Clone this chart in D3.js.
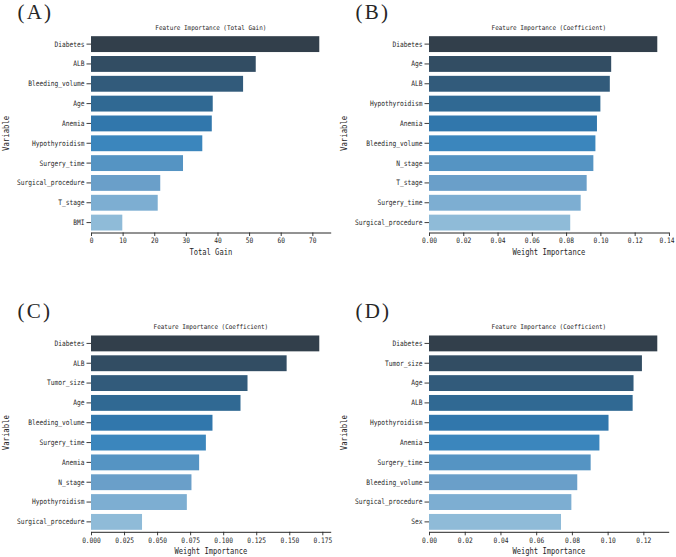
<!DOCTYPE html>
<html>
<head>
<meta charset="utf-8">
<script src="https://cdn.jsdelivr.net/npm/d3@7"></script>
<style>
  body { margin: 0; background: #fff; }
  svg { display: block; }
  text { fill: #262626; }
</style>
</head>
<body>
<svg id="chart" width="676" height="557"></svg>
<script>
"use strict";

// --- data ---

const catsA = ["Diabetes", "ALB", "Bleeding_volume", "Age", "Anemia", "Hypothyroidism",
    "Surgery_time", "Surgical_procedure", "T_stage", "BMI"]
const valsA = [72.2, 52.1, 48.1, 38.5, 38.2, 35.2, 29.1, 21.9, 21.1, 9.9]
const ticksA = [0, 10, 20, 30, 40, 50, 60, 70]

const catsB = ["Diabetes", "Age", "ALB", "Hypothyroidism", "Anemia", "Bleeding_volume",
    "N_stage", "T_stage", "Surgery_time", "Surgical_procedure"]
const valsB = [0.1332, 0.1063, 0.1055, 0.1000, 0.0980, 0.0971, 0.0959, 0.0920, 0.0885, 0.0824]
const ticksB = [0, 0.02, 0.04, 0.06, 0.08, 0.10, 0.12, 0.14]

const catsC = ["Diabetes", "ALB", "Tumor_size", "Age", "Bleeding_volume", "Surgery_time",
    "Anemia", "N_stage", "Hypothyroidism", "Surgical_procedure"]
const valsC = [0.1727, 0.1480, 0.1184, 0.1131, 0.0919, 0.0869, 0.0818, 0.0760, 0.0725, 0.0386]
const ticksC = [0, 0.025, 0.050, 0.075, 0.100, 0.125, 0.150, 0.175]

const catsD = ["Diabetes", "Tumor_size", "Age", "ALB", "Hypothyroidism", "Anemia",
    "Surgery_time", "Bleeding_volume", "Surgical_procedure", "Sex"]
const valsD = [0.1278, 0.1192, 0.1145, 0.1140, 0.1005, 0.0954, 0.0905, 0.0830, 0.0797, 0.0739]
const ticksD = [0, 0.02, 0.04, 0.06, 0.08, 0.10, 0.12]

// dark -> light blues, one per rank
const barColors = ["#323f4b", "#324d63", "#325b7b", "#306993", "#3177ac",
    "#3b86bd", "#5594c3", "#6a9fc9", "#7daed2", "#8fbbd8"]

const panels = [
    { letter: "(A)", title: "Feature Importance (Total Gain)", xLabel: "Total Gain",
      cats: catsA, vals: valsA, ticks: ticksA, fmt: d3.format("d"), dx: 0, dy: 0 },
    { letter: "(B)", title: "Feature Importance (Coefficient)", xLabel: "Weight Importance",
      cats: catsB, vals: valsB, ticks: ticksB, fmt: d3.format(".2f"), dx: 338, dy: 0 },
    { letter: "(C)", title: "Feature Importance (Coefficient)", xLabel: "Weight Importance",
      cats: catsC, vals: valsC, ticks: ticksC, fmt: d3.format(".3f"), dx: 0, dy: 299.3 },
    { letter: "(D)", title: "Feature Importance (Coefficient)", xLabel: "Weight Importance",
      cats: catsD, vals: valsD, ticks: ticksD, fmt: d3.format(".2f"), dx: 338, dy: 299.3 }
]

// --- layout (inside one panel) ---

const pageWidth = 676
const plotLeft = 91
const plotRight = 330.7
const plotTop = 34.2
const plotBottom = 232.5
const mono = "'DejaVu Sans Mono', 'Liberation Mono', monospace"
const tickChar = 3.75

// the original uses a narrow half-width CJK font, squeeze mono glyphs to match
function squeeze (sel, perChar) {
    sel.attr("textLength", function () { return this.textContent.length * perChar })
        .attr("lengthAdjust", "spacingAndGlyphs")
}

const svg = d3.select("#chart")

panels.forEach(p => {
    const g = svg.append("g").attr("transform", `translate(${p.dx},${p.dy})`)

    const x = d3.scaleLinear()
        .domain([0, d3.max(p.vals) * 1.05])
        .range([plotLeft, plotRight])

    const y = d3.scaleBand()
        .domain(p.cats)
        .range([plotTop, plotBottom])
        .paddingInner(0.2)
        .paddingOuter(0.1)

    g.append("g")
        .selectAll("rect")
        .data(p.cats)
        .join("rect")
        .attr("x", x(0))
        .attr("y", d => y(d))
        .attr("width", (d, i) => x(p.vals[i]) - x(0))
        .attr("height", y.bandwidth())
        .attr("fill", (d, i) => barColors[i])

    // y axis: ticks only, no spine
    const ya = g.append("g")
        .attr("transform", `translate(${plotLeft},0)`)
        .call(d3.axisLeft(y).tickSize(4.5).tickPadding(2))
    ya.select(".domain").remove()
    ya.selectAll("line").attr("stroke", "#262626").attr("stroke-width", 0.9)
    ya.selectAll("text")
        .attr("font-family", mono)
        .attr("font-size", 7.5)
        .attr("fill", "#262626")
        .call(squeeze, tickChar)

    // x axis
    const xa = g.append("g")
        .attr("transform", `translate(0,${plotBottom})`)
        .call(d3.axisBottom(x).tickValues(p.ticks).tickFormat(p.fmt)
            .tickSize(3.5).tickPadding(2).tickSizeOuter(0))
    xa.select(".domain").attr("stroke", "#262626").attr("stroke-width", 1)
    xa.selectAll("line").attr("stroke", "#262626").attr("stroke-width", 0.9)
    xa.selectAll("text")
        .attr("font-family", mono)
        .attr("font-size", 7.5)
        .attr("fill", "#262626")
        .call(squeeze, tickChar)
        // keep the last label inside the page
        .attr("dx", function (d) {
            const right = p.dx + x(d) + this.textContent.length * tickChar / 2
            return right > pageWidth - 2 ? (pageWidth - 2 - right) : 0
        })

    // labels
    g.append("text")
        .attr("x", (plotLeft + plotRight) / 2)
        .attr("y", 30)
        .attr("text-anchor", "middle")
        .attr("font-family", mono)
        .attr("font-size", 6.5)
        .text(p.title)
        .call(squeeze, 3.58)

    g.append("text")
        .attr("x", (plotLeft + plotRight) / 2)
        .attr("y", 254.7)
        .attr("text-anchor", "middle")
        .attr("font-family", mono)
        .attr("font-size", 8)
        .text(p.xLabel)
        .call(squeeze, 4.28)

    g.append("text")
        .attr("transform", `translate(9.3,${(plotTop + plotBottom) / 2}) rotate(-90)`)
        .attr("text-anchor", "middle")
        .attr("font-family", mono)
        .attr("font-size", 8)
        .text("Variable")
        .call(squeeze, 4.4)

    g.append("text")
        .attr("x", 17.5)
        .attr("y", 18.5)
        .attr("font-family", "'Liberation Serif', 'DejaVu Serif', serif")
        .attr("font-size", 21)
        .attr("letter-spacing", 2.2)
        .attr("fill", "#111")
        .text(p.letter)
})
</script>
</body>
</html>
